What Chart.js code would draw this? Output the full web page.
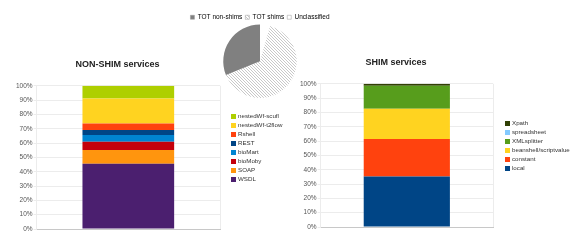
<!DOCTYPE html>
<html>
<head>
<meta charset="utf-8">
<script src="https://cdn.jsdelivr.net/npm/chart.js@4/dist/chart.umd.min.js"></script>
<style>
    html, body { margin: 0; padding: 0; background: #fff; }
    body { width: 585px; height: 246px; position: relative; overflow: hidden; font-family: 'Liberation Sans', 'DejaVu Sans', sans-serif; }
    .box { position: absolute; }
    .legend { position: absolute; font-size: 6.2px; color: #333; line-height: 9px; }
    .legend div { white-space: nowrap; }
    .legend span { display: inline-block; width: 5px; height: 5px; margin-right: 2px; vertical-align: -0.5px; }
</style>
</head>
<body>
<div class="box" style="left:0;top:50px;width:290px;height:185px"><canvas id="nonShim"></canvas></div>
<div class="box" style="left:298px;top:48px;width:268px;height:185px"><canvas id="shim"></canvas></div>
<div class="box" style="left:180px;top:11px;width:160px;height:87px"><canvas id="pie"></canvas></div>
<div class="legend" id="nonShimLegend" style="left:231px;top:111px"></div>
<div class="legend" id="shimLegend" style="left:505px;top:118px"></div>

<script>
// ─── Data ───
const pieLabels = ['TOT non-shims', 'TOT shims', 'Unclassified'];
const pieValues = [31.1, 64.5, 4.4];

// stacked bottom -> top
const nonShimLabels = ['WSDL', 'SOAP', 'bioMoby', 'bioMart', 'REST', 'Rshell', 'nestedWf-t2flow', 'nestedWf-scufl'];
const nonShimValues = [45.6, 9.5, 5.8, 4.7, 3.5, 4.6, 17.5, 8.8];
const nonShimColors = ['#4b1f6f', '#ff950e', '#c5000b', '#0084d1', '#004586', '#ff420e', '#ffd320', '#aecf00'];

const shimLabels = ['local', 'constant', 'beanshell/scriptvalue', 'XMLsplitter', 'spreadsheet', 'Xpath'];
const shimValues = [35.2, 26.3, 21.0, 16.1, 0.1, 1.3];
const shimColors = ['#004586', '#ff420e', '#ffd320', '#579d1c', '#83caff', '#314004'];

const yTicks = [0, 10, 20, 30, 40, 50, 60, 70, 80, 90, 100];

const FONT = "'Liberation Sans', 'DejaVu Sans', sans-serif";

// ─── Hatch pattern for "TOT shims" ───
function makeHatch() {
    const c = document.createElement('canvas');
    c.width = 3; c.height = 3;
    const g = c.getContext('2d');
    g.fillStyle = '#fff';
    g.fillRect(0, 0, 3, 3);
    g.strokeStyle = '#b0b0b0';
    g.lineWidth = 0.7;
    g.beginPath();
    g.moveTo(-1, -1); g.lineTo(4, 4);
    g.moveTo(-1, 2); g.lineTo(1, 4);
    g.moveTo(2, -1); g.lineTo(4, 1);
    g.stroke();
    return g.createPattern(c, 'repeat');
}

// ─── Stacked 100% bar chart ───
function stackedBar(id, title, labels, values, colors, padLeft, padRight) {
    const datasets = labels.map((l, i) => ({
        label: l,
        data: [values[i]],
        backgroundColor: colors[i],
        borderWidth: 0,
        barPercentage: 1,
        categoryPercentage: 0.5
    }));
    new Chart(document.getElementById(id), {
        type: 'bar',
        data: { labels: [''], datasets },
        options: {
            responsive: true,
            maintainAspectRatio: false,
            animation: false,
            layout: { padding: { left: padLeft, right: padRight, top: 0, bottom: 6 } },
            scales: {
                x: {
                    stacked: true,
                    ticks: { display: false },
                    grid: { color: '#ececec', drawTicks: false },
                    border: { color: '#c8c8c8' }
                },
                y: {
                    stacked: true,
                    min: 0,
                    max: 100,
                    afterBuildTicks: s => { s.ticks = yTicks.map(v => ({ value: v })); },
                    ticks: {
                        callback: v => v + '%',
                        font: { family: FONT, size: 6.5 },
                        color: '#555',
                        padding: 1
                    },
                    grid: { color: '#ececec', tickLength: 3 },
                    border: { color: '#ececec' }
                }
            },
            plugins: {
                legend: { display: false },
                tooltip: { enabled: false },
                title: {
                    display: true,
                    text: title,
                    color: '#222',
                    font: { family: FONT, size: 9, weight: 'bold' },
                    padding: { top: 9, bottom: 16 }
                }
            }
        }
    });
}

stackedBar('nonShim', 'NON-SHIM services', nonShimLabels, nonShimValues, nonShimColors, 15, 70);
stackedBar('shim', 'SHIM services', shimLabels, shimValues, shimColors, 1, 73);

// ─── Legends (top of stack listed first) ───
function fillLegend(id, labels, colors) {
    const el = document.getElementById(id);
    el.innerHTML = labels.map((l, i) => `<div><span style="background:${colors[i]}"></span>${l}</div>`).reverse().join('');
}
fillLegend('nonShimLegend', nonShimLabels, nonShimColors);
fillLegend('shimLegend', shimLabels, shimColors);

// ─── Pie ───
// drawn counter-clockwise in the original, so data goes in reversed and the legend is flipped back
const hatch = makeHatch();
const pieFills = ['#808080', hatch, '#ffffff'];

// pull the pie a bit closer to its legend
const tightLegend = {
    id: 'tightLegend',
    beforeInit(chart) {
        const fit = chart.legend.fit;
        chart.legend.fit = function () {
            fit.call(this);
            this.height -= 6;
        };
    }
};

new Chart(document.getElementById('pie'), {
    type: 'pie',
    data: {
        labels: pieLabels.slice().reverse(),
        datasets: [{
            data: pieValues.slice().reverse(),
            backgroundColor: pieFills.slice().reverse(),
            borderWidth: 0
        }]
    },
    options: {
        responsive: true,
        maintainAspectRatio: false,
        animation: false,
        layout: { padding: 0 },
        plugins: {
            tooltip: { enabled: false },
            legend: {
                position: 'top',
                reverse: true,
                labels: {
                    font: { family: FONT, size: 6.5 },
                    color: '#444',
                    boxWidth: 4,
                    boxHeight: 4,
                    padding: 3,
                    generateLabels: chart => {
                        const ds = chart.data.datasets[0];
                        return chart.data.labels.map((l, i) => ({
                            text: l,
                            fillStyle: ds.backgroundColor[i],
                            strokeStyle: '#999',
                            lineWidth: 0.5,
                            index: i
                        }));
                    }
                }
            }
        }
    },
    plugins: [tightLegend]
});
</script>
</body>
</html>
